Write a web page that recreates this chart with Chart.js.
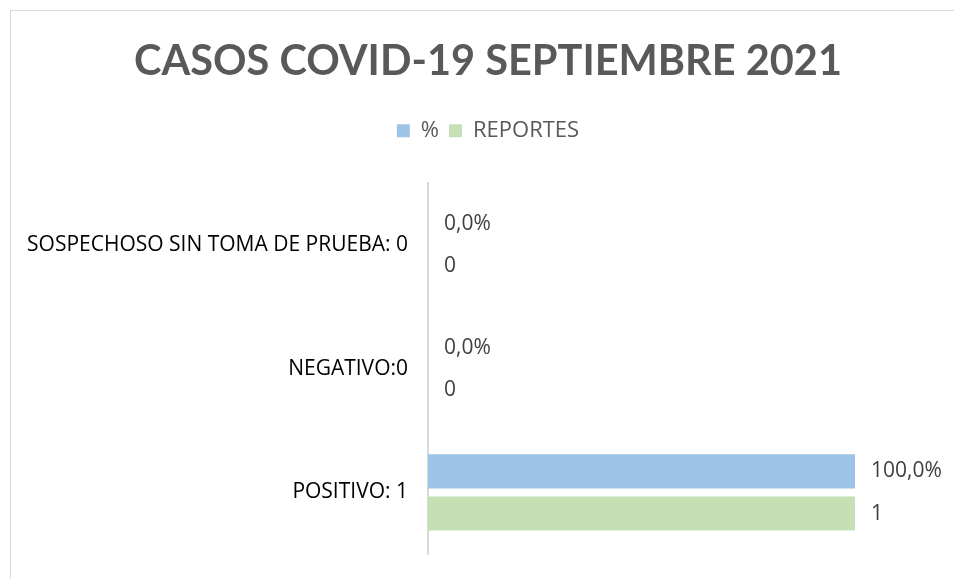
<!DOCTYPE html>
<html>
<head>
<meta charset="utf-8">
<script src="https://cdn.jsdelivr.net/npm/chart.js@4"></script>
<style>
  html, body { margin: 0; padding: 0; background: #fff; }
  #wrap { position: relative; width: 954px; height: 579px; overflow: hidden; }
  #frame { position: absolute; left: 10px; top: 10px; width: 980px; height: 600px; border: 1px solid #d9d9d9; }
  #c { position: absolute; left: 0; top: 0; }
</style>
</head>
<body>
<div id="wrap">
  <div id="frame"></div>
  <canvas id="c" width="954" height="579"></canvas>
</div>
<script>
var categories   = ['SOSPECHOSO SIN TOMA DE PRUEBA: 0', 'NEGATIVO:0', 'POSITIVO: 1'];
var pctValues    = [0, 0, 1];
var reportValues = [0, 0, 1];

// etiquetas de datos a la derecha de cada barra
var valueLabels = {
    id: 'valueLabels',
    afterDatasetsDraw: function (chart) {
        var ctx = chart.ctx;
        ctx.save();
        ctx.font = '21px "Open Sans"';
        ctx.fillStyle = '#404040';
        ctx.textAlign = 'left';
        ctx.textBaseline = 'middle';
        chart.data.datasets.forEach(function (ds, i) {
            var meta = chart.getDatasetMeta(i);
            meta.data.forEach(function (bar, j) {
                var v = ds.data[j];
                var txt = i === 0 ? (v * 100).toFixed(1).replace('.', ',') + '%' : String(v);
                ctx.fillText(txt, bar.x + 16, bar.y);
            });
        });
        ctx.restore();
    }
};

new Chart(document.getElementById('c'), {
    type: 'bar',
    data: {
        labels: categories,
        datasets: [
            { label: '%', data: pctValues, backgroundColor: '#9dc3e6' },
            { label: 'REPORTES', data: reportValues, backgroundColor: '#c5e0b4' }
        ]
    },
    options: {
        indexAxis: 'y',
        responsive: false,
        animation: false,
        categoryPercentage: 0.68,
        barPercentage: 0.81,
        layout: { padding: { left: 22, right: 0, top: 37, bottom: 17 } },
        plugins: {
            title: {
                display: true,
                text: 'CASOS COVID-19 SEPTIEMBRE 2021',
                color: '#595959',
                font: { family: 'Lato', size: 41.5, weight: 'bold' },
                padding: { top: 0, bottom: 23 }
            },
            legend: {
                position: 'top',
                labels: {
                    boxWidth: 13, boxHeight: 13,
                    color: '#595959',
                    font: { family: 'Open Sans', size: 22 },
                    padding: 10
                }
            },
            tooltip: { enabled: false }
        },
        scales: {
            x: {
                position: 'top',
                min: 0, max: 1,
                grid: { display: false },
                border: { display: false },
                ticks: { display: false },
                afterFit: function (s) { s.height = 31; }
            },
            y: {
                grid: { display: false },
                border: { color: '#d9d9d9', width: 2 },
                ticks: { color: '#000', font: { family: 'Open Sans', size: 21 }, padding: 12 },
                afterFit: function (s) { s.width = 406; }
            },
            right: {
                type: 'category',
                position: 'right',
                grid: { display: false },
                border: { display: false },
                ticks: { display: false },
                afterFit: function (s) { s.width = 99; }
            }
        }
    },
    plugins: [valueLabels]
});
</script>
</body>
</html>
